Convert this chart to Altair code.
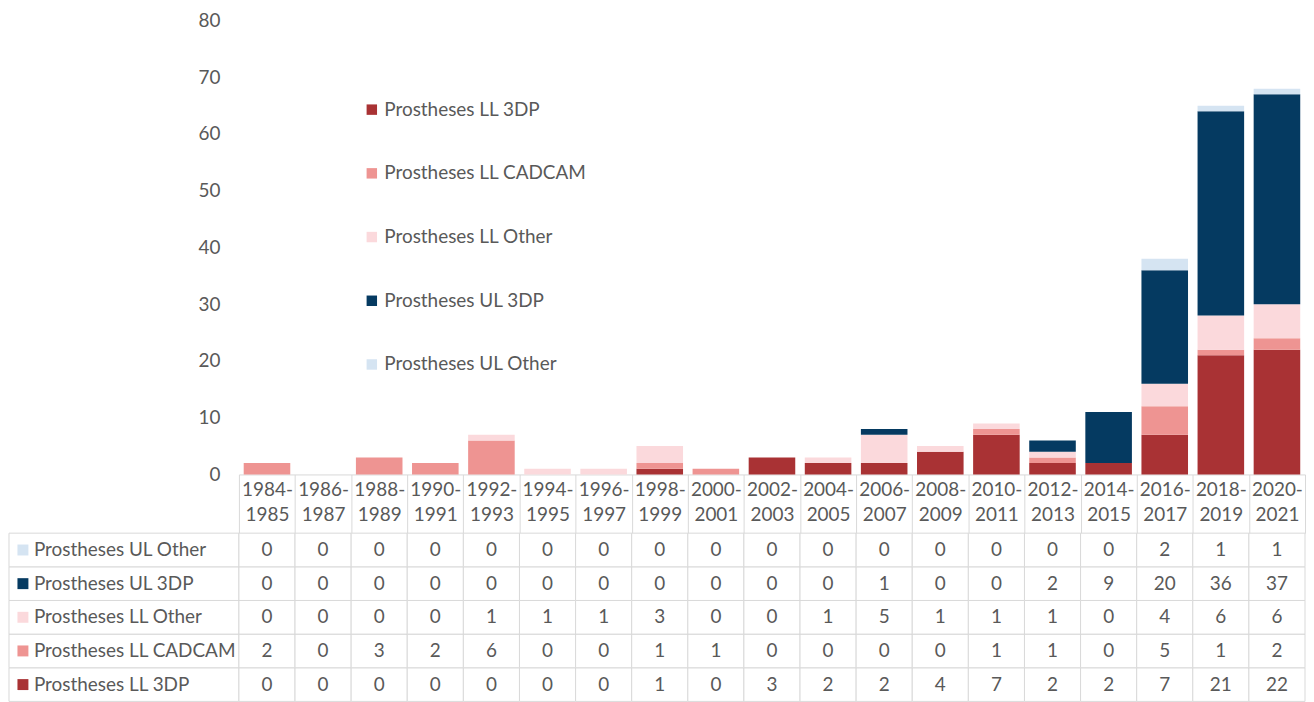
import altair as alt
import pandas as pd

periods = ["1984-1985", "1986-1987", "1988-1989", "1990-1991", "1992-1993",
           "1994-1995", "1996-1997", "1998-1999", "2000-2001", "2002-2003",
           "2004-2005", "2006-2007", "2008-2009", "2010-2011", "2012-2013",
           "2014-2015", "2016-2017", "2018-2019", "2020-2021"]

series = ["Prostheses LL 3DP", "Prostheses LL CADCAM", "Prostheses LL Other",
          "Prostheses UL 3DP", "Prostheses UL Other"]
colors = ["#A93234", "#EE9492", "#FBD9DC", "#053A61", "#D5E4F2"]

ll_3dp = [0, 0, 0, 0, 0, 0, 0, 1, 0, 3, 2, 2, 4, 7, 2, 2, 7, 21, 22]
ll_cadcam = [2, 0, 3, 2, 6, 0, 0, 1, 1, 0, 0, 0, 0, 1, 1, 0, 5, 1, 2]
ll_other = [0, 0, 0, 0, 1, 1, 1, 3, 0, 0, 1, 5, 1, 1, 1, 0, 4, 6, 6]
ul_3dp = [0, 0, 0, 0, 0, 0, 0, 0, 0, 0, 0, 1, 0, 0, 2, 9, 20, 36, 37]
ul_other = [0, 0, 0, 0, 0, 0, 0, 0, 0, 0, 0, 0, 0, 0, 0, 0, 2, 1, 1]

y_ticks = [0, 10, 20, 30, 40, 50, 60, 70, 80]

series_values = [ll_3dp, ll_cadcam, ll_other, ul_3dp, ul_other]
rows = []
for k, (s, vals) in enumerate(zip(series, series_values)):
    for p, v in zip(periods, vals):
        rows.append({"period": p, "series": s, "value": v, "idx": k})
df = pd.DataFrame(rows)
table_order = series[::-1]

TEXT = "#595959"
GRID = "#D9D9D9"
FONT = "Lato"
FS = 19
LEFT_W = 231
PLOT_W = 1071
PLOT_H = 456
ROW_H = 169
HDR = 59

color_scale = alt.Scale(domain=series, range=colors)

bars = alt.Chart(df).mark_bar(width=alt.RelativeBandSize(band=0.83)).encode(
    x=alt.X("period:N", sort=periods,
            scale=alt.Scale(domain=periods, paddingInner=0, paddingOuter=0),
            axis=alt.Axis(title=None, labelAngle=0, tickBand="extent",
                          tickSize=HDR, tickColor=GRID, tickWidth=1,
                          domainColor=GRID, domainWidth=1,
                          labelPadding=-HDR + 6, labelBaseline="top",
                          labelExpr="[slice(datum.label,0,5), slice(datum.label,5)]",
                          labelLineHeight=25, labelFontSize=FS,
                          labelColor=TEXT, labelFont=FONT)),
    y=alt.Y("value:Q", stack="zero", scale=alt.Scale(domain=[0, 80]),
            axis=alt.Axis(title=None, values=y_ticks, grid=False, domain=False,
                          ticks=False, labelPadding=19, labelFontSize=FS,
                          labelColor=TEXT, labelFont=FONT)),
    color=alt.Color("series:N", scale=color_scale,
                    legend=alt.Legend(title=None, orient="none", legendX=124,
                                      legendY=80, symbolType="square",
                                      symbolSize=110, symbolStrokeWidth=0,
                                      labelFontSize=FS, labelColor=TEXT,
                                      labelFont=FONT, labelOffset=3,
                                      labelLimit=400, rowPadding=44)),
    order=alt.Order("idx:Q", sort="ascending"),
).properties(width=PLOT_W, height=PLOT_H)

blank = alt.Chart(pd.DataFrame({"a": [0]})).mark_text(text="").encode(
    x=alt.value(0), y=alt.value(0)
).properties(width=LEFT_W, height=PLOT_H)

lab_df = pd.DataFrame({"series": series})
ylab = alt.Y("series:N", sort=table_order,
             scale=alt.Scale(domain=table_order, paddingInner=0, paddingOuter=0),
             axis=None)
lab_base = alt.Chart(lab_df).encode(y=ylab)
lab_cells = lab_base.mark_rect(fill="white", stroke=GRID, strokeWidth=1).encode(
    x=alt.value(0), x2=alt.value(LEFT_W))
lab_sq = lab_base.mark_square(size=121, opacity=1).encode(
    x=alt.value(14),
    color=alt.Color("series:N", scale=color_scale, legend=None))
lab_txt = lab_base.mark_text(align="left", baseline="middle", fontSize=FS,
                             font=FONT, color=TEXT).encode(
    x=alt.value(25), text="series:N")
labels = alt.layer(lab_cells, lab_sq, lab_txt).properties(width=LEFT_W, height=ROW_H)

tbl_base = alt.Chart(df).encode(
    x=alt.X("period:N", sort=periods,
            scale=alt.Scale(domain=periods, paddingInner=0, paddingOuter=0),
            axis=None),
    y=alt.Y("series:N", sort=table_order,
            scale=alt.Scale(domain=table_order, paddingInner=0, paddingOuter=0),
            axis=None),
)
tbl_cells = tbl_base.mark_rect(fill="white", stroke=GRID, strokeWidth=1)
tbl_txt = tbl_base.mark_text(align="center", baseline="middle", fontSize=FS,
                             font=FONT, color=TEXT).encode(text="value:Q")
table = alt.layer(tbl_cells, tbl_txt).properties(width=PLOT_W, height=ROW_H)

chart = alt.concat(
    blank, bars, labels, table, columns=2,
    spacing=alt.RowColnumber(row=HDR, column=0), bounds="flush"
).resolve_scale(color="independent").properties(
    padding={"left": 0, "top": 2, "right": 0, "bottom": 0}
).configure(font=FONT).configure_view(stroke=None)

chart.save("out.html", embed_options={"renderer": "svg", "actions": False})
